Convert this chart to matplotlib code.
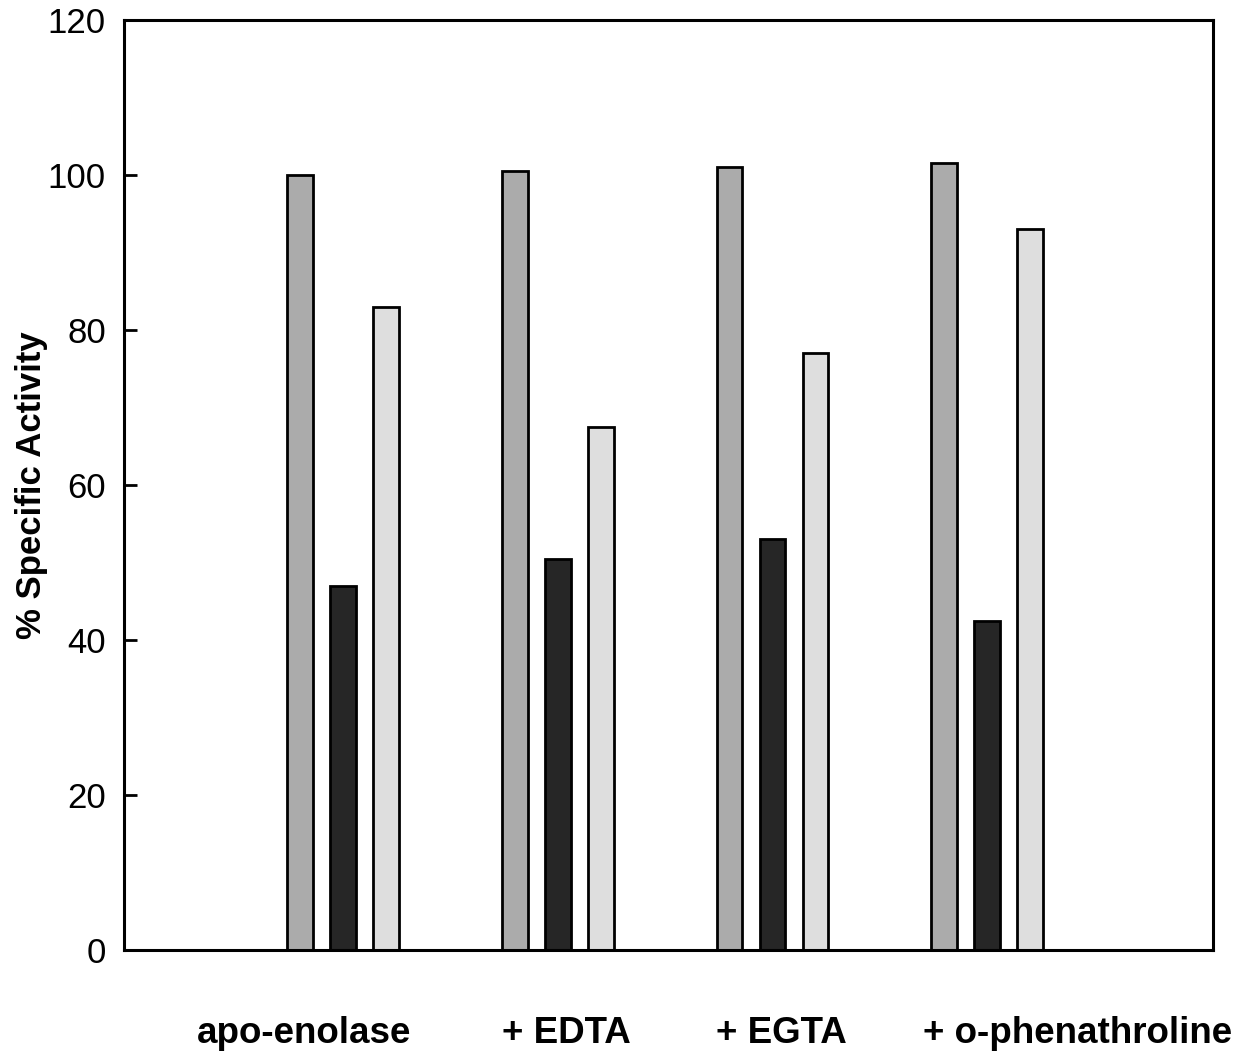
import numpy as np
import matplotlib
matplotlib.use('Agg')
import matplotlib.pyplot as plt

plt.rcParams['font.family'] = ['Liberation Sans', 'DejaVu Sans']

# data
groups = ['apo-enolase', '+ EDTA', '+ EGTA', '+ o-phenathroline']
series1 = [100, 100.5, 101, 101.5]
series2 = [47, 50.5, 53, 42.5]
series3 = [83, 67.5, 77, 93]
yticks = [0, 20, 40, 60, 80, 100, 120]

# label offsets (the labels in the original are not centred on the groups)
label_shift = [-0.18, 0.04, 0.04, 0.42]

x = np.arange(len(groups))
w = 0.12
off = 0.2

fig = plt.figure(figsize=(12.45, 10.53), dpi=100)
ax = fig.add_axes([0.0996, 0.098, 0.8744, 0.883])

ax.bar(x - off, series1, w, color='#ababab', edgecolor='black', linewidth=2)
ax.bar(x, series2, w, color='#262626', edgecolor='black', linewidth=2)
ax.bar(x + off, series3, w, color='#dedede', edgecolor='black', linewidth=2)

ax.set_xlim(-1.02, 4.05)
ax.set_ylim(0, 120)
ax.set_yticks(yticks)
ax.tick_params(axis='y', direction='in', length=9, width=2, pad=13, labelsize=25)
ax.set_xticks(x + np.array(label_shift))
ax.set_xticklabels(groups, fontsize=26.5, fontweight='bold')
ax.tick_params(axis='x', length=0, pad=48)

for s in ax.spines.values():
    s.set_linewidth(2.2)

ax.set_ylabel('% Specific Activity', fontsize=25, fontweight='bold')
ax.yaxis.set_label_coords(-0.07, 0.5)

fig.savefig('out.png', dpi=100)
